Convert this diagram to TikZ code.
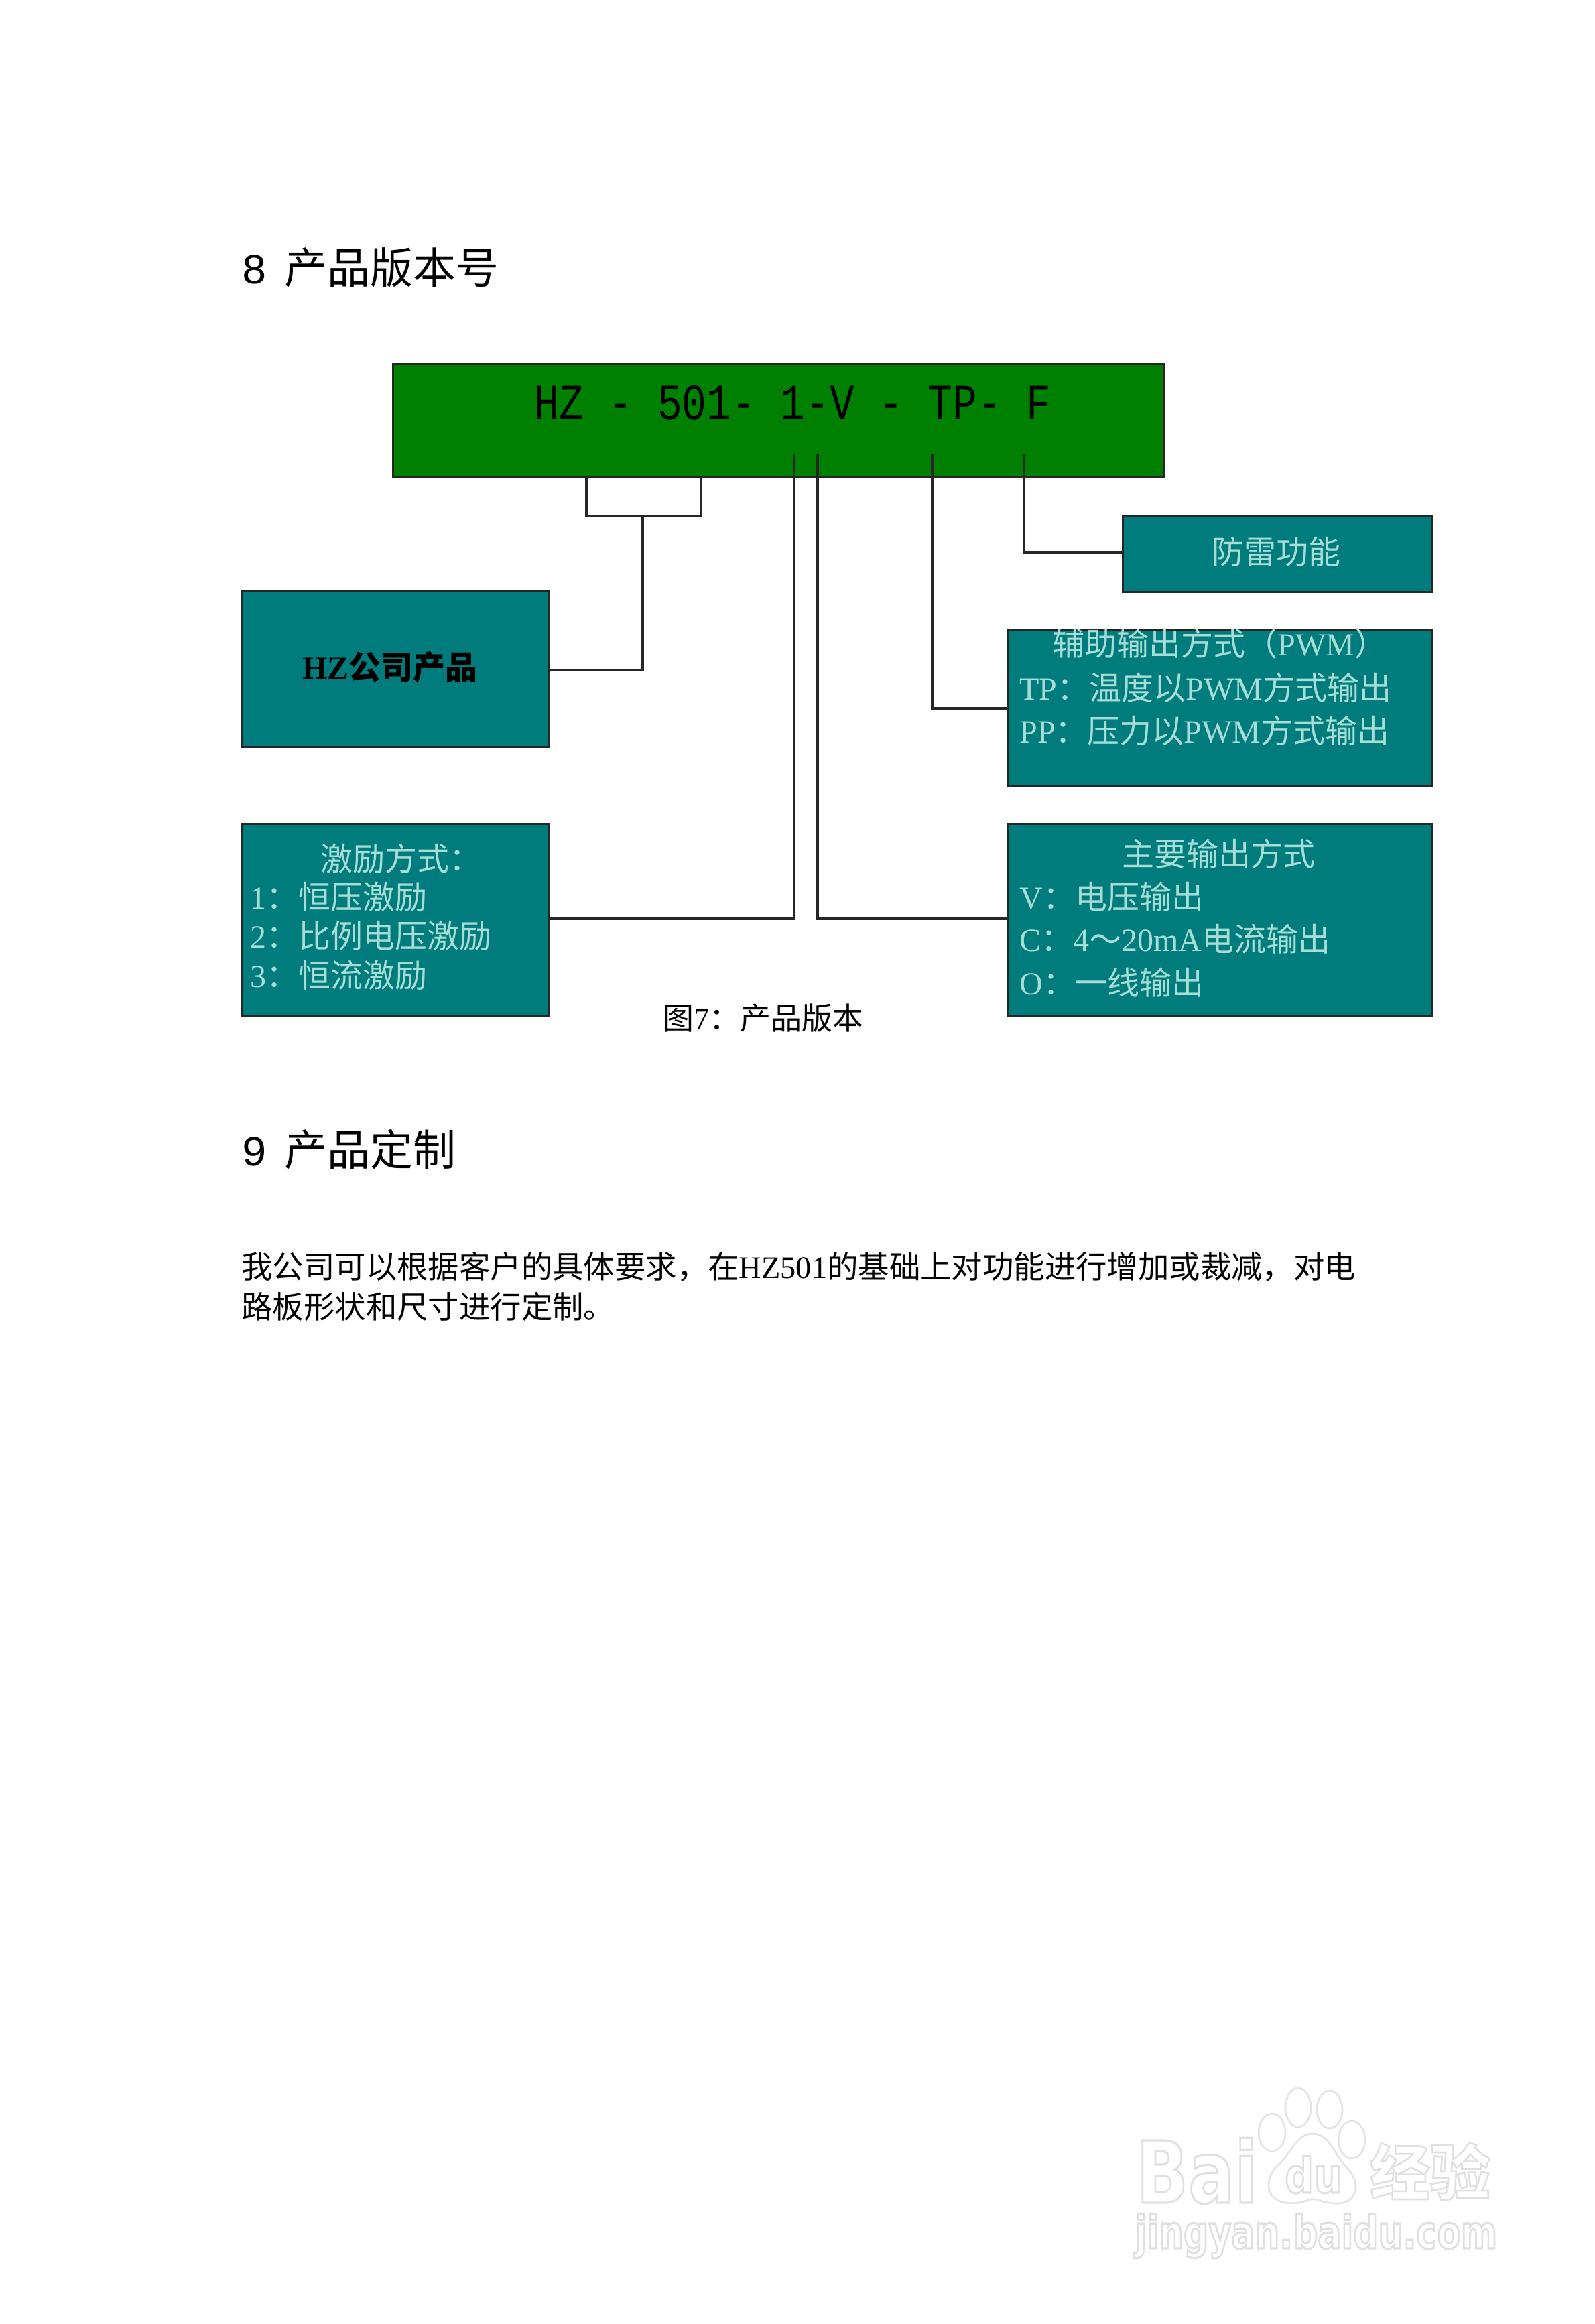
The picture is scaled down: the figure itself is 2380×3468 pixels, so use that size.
\documentclass[tikz,border=0pt]{standalone}
\usepackage{graphicx}
\usepackage{fontspec}
\setmainfont{Noto Sans CJK SC}
\newfontfamily\lat{Liberation Serif}
\newfontfamily\mono{Liberation Mono}
\newfontfamily\wmfont{DejaVu Sans}
\definecolor{tealbox}{HTML}{007C7C}
\definecolor{greenbox}{HTML}{008000}
\definecolor{paletxt}{HTML}{A6DDD6}
\definecolor{wmline}{HTML}{E4E4E4}
\tikzset{
  bx/.style={draw=black!85,line width=1.5pt,fill=tealbox,inner sep=0pt,rectangle},
  txt/.style={inner sep=0pt,text=paletxt,font=\fontsize{24}{24}\selectfont},
  head/.style={inner sep=0pt,anchor=base west,font=\fontsize{32}{32}\selectfont},
  body/.style={inner sep=0pt,anchor=base west,font=\fontsize{23.2}{24}\selectfont},
  wire/.style={draw=black!85,line width=2.3pt,line join=miter},
  wmshape/.style={draw=wmline,line width=1.4pt,fill=white},
  wmtxt/.style={inner sep=0pt}
}
\newcommand{\outl}[1]{\special{pdf:code q 1 Tr 1.3 w 0.88 G}#1\special{pdf:code Q}}
\begin{document}
\begin{tikzpicture}[x=0.5pt,y=-0.5pt]
\useasboundingbox[fill=white] (0,0) rectangle (2380,3468);
% headings
\node[head] (h8) at (360,423) {{\mono 8}\hspace{13pt}产品版本号};
\node[head] (h9) at (360,1739) {{\mono 9}\hspace{13pt}产品定制};
% boxes
\node[bx,fill=greenbox,minimum width=575pt,minimum height=84.5pt] (ver) at (1161,627) {};
\node[bx,minimum width=229pt,minimum height=116pt] (hz) at (589,998) {};
\node[bx,minimum width=231pt,minimum height=57pt] (flash) at (1906,826) {};
\node[bx,minimum width=316.5pt,minimum height=116.5pt] (aux) at (1820.5,1055.5) {};
\node[bx,minimum width=229pt,minimum height=143.5pt] (exc) at (589,1372.5) {};
\node[bx,minimum width=316.5pt,minimum height=143.5pt] (out) at (1820.5,1372.5) {};
% connector anchors
\coordinate (brL) at (875,712);
\coordinate (brR) at (1046,712);
\coordinate (brM) at (959,770);
\coordinate (tapE) at (1185,677);
\coordinate (tapO) at (1220,677);
\coordinate (tapT) at (1391,677);
\coordinate (tapF) at (1528,677);
\coordinate (lineY) at (0,1371);
\coordinate (lineA) at (0,1057);
\coordinate (lineF) at (0,824);
\coordinate (lineH) at (0,1000);
% connectors
\draw[wire] (brL) |- (brM) -| (brR);
\draw[wire] (brM) |- (hz.east |- lineH);
\draw[wire] (tapF) |- (flash.west |- lineF);
\draw[wire] (tapT) |- (aux.west |- lineA);
\draw[wire] (tapE) |- (exc.east |- lineY);
\draw[wire] (tapO) |- (out.west |- lineY);
% version string
\node[inner sep=0pt,anchor=base west,font=\fontsize{30.6}{31}\selectfont\mono,text=black] (vtxt) at (797,626) {\scalebox{1}[1.25]{HZ\ -\ 501-\ 1-V\ -\ TP-\ F}};
% box texts
\node[inner sep=0pt,font=\fontsize{24}{24}\selectfont\bfseries,text=black] (t0) at (582,995) {{\lat\bfseries HZ}公司产品};
\node[txt] (t1) at (1904,823) {防雷功能};
\node[txt] (t2) at (1820,960) {辅助输出方式（{\lat PWM}）};
\node[txt,anchor=west] (t3) at (1521,1026) {{\lat TP}：温度以{\lat PWM}方式输出};
\node[txt,anchor=west] (t4) at (1521,1090) {{\lat PP}：压力以{\lat PWM}方式输出};
\node[txt] (t5) at (598,1281) {激励方式：};
\node[txt,anchor=west] (t6) at (373,1338) {{\lat 1}：恒压激励};
\node[txt,anchor=west] (t7) at (373,1396) {{\lat 2}：比例电压激励};
\node[txt,anchor=west] (t8) at (373,1455) {{\lat 3}：恒流激励};
\node[txt] (t9) at (1818,1274) {主要输出方式};
\node[txt,anchor=west] (t10) at (1521,1338) {{\lat V}：电压输出};
\node[txt,anchor=west] (t11) at (1521,1401) {{\lat C}：{\lat 4}～{\lat 20mA}电流输出};
\node[txt,anchor=west] (t12) at (1521,1466) {{\lat O}：一线输出};
% caption
\node[inner sep=0pt,font=\fontsize{23}{23}\selectfont] (cap) at (1139,1519) {图{\lat 7}：产品版本};
% paragraph
\node[body] (p1) at (360,1907) {我公司可以根据客户的具体要求，在{\lat HZ501}的基础上对功能进行增加或裁减，对电};
\node[body] (p2) at (360,1967) {路板形状和尺寸进行定制。};
% watermark
\node[wmtxt,anchor=base west,font=\fontsize{51}{51}\selectfont\wmfont\bfseries] (wBai) at (1695,3287) {\scalebox{1}[1.25]{\outl{Bai}}};
\draw[wmshape] (1937,3145) ellipse (19 and 29);
\draw[wmshape] (1984,3148) ellipse (19 and 28);
\draw[wmshape] (1898,3182) ellipse (20 and 28);
\draw[wmshape] (2017,3193) ellipse (20 and 28);
\draw[wmshape] (1958,3184) .. controls (1985,3184) and (1990,3215) .. (2010,3235)
  .. controls (2030,3255) and (2028,3288) .. (1995,3288)
  .. controls (1975,3288) and (1965,3280) .. (1955,3282)
  .. controls (1940,3288) and (1925,3290) .. (1910,3285)
  .. controls (1885,3275) and (1890,3245) .. (1908,3230)
  .. controls (1925,3215) and (1935,3184) .. (1958,3184) -- cycle;
\node[wmtxt,anchor=base,font=\fontsize{30}{30}\selectfont\wmfont\bfseries] (wDu) at (1960,3272) {\scalebox{1}[1.2]{\outl{du}}};
\node[wmtxt,anchor=center,font=\fontsize{45}{45}\selectfont\bfseries] (wJy) at (2134,3240) {\outl{经验}};
\node[wmtxt,anchor=base west,font=\fontsize{26}{26}\selectfont\wmfont\bfseries] (wUrl) at (1693,3355) {\scalebox{1}[1.3]{\outl{jingyan.baidu.com}}};
\end{tikzpicture}
\end{document}
